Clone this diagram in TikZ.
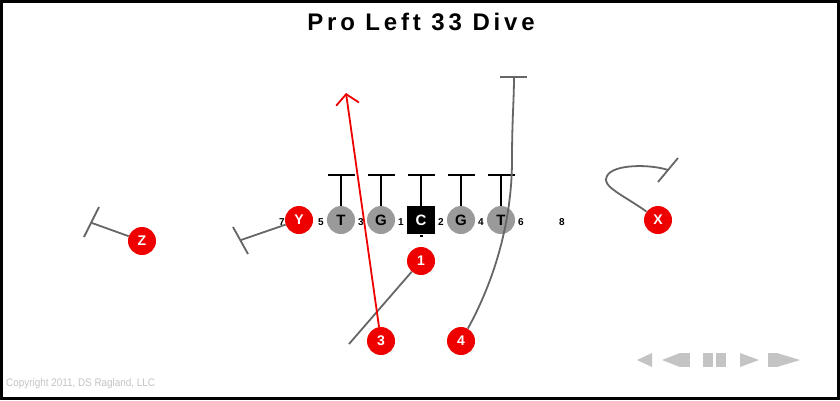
\documentclass[tikz,border=0pt]{standalone}
\usepackage{fontspec}
\setmainfont{Liberation Sans}
\newfontfamily\titlefont[LetterSpace=16]{Liberation Sans}
\usetikzlibrary{arrows.meta,calc}
\definecolor{pred}{HTML}{EE0000}
\definecolor{pgray}{HTML}{9A9A9A}
\definecolor{rgray}{HTML}{666666}
\definecolor{cgray}{HTML}{C4C4C4}
\begin{document}
\begin{tikzpicture}[x=1pt,y=-1pt,
  skill/.style={circle,fill=pred,text=white,inner sep=0pt,minimum size=28pt,font=\fontsize{14}{14}\selectfont\bfseries},
  lineman/.style={circle,fill=pgray,text=black,inner sep=0pt,minimum size=28pt,font=\fontsize{15}{15}\selectfont\bfseries},
  center/.style={rectangle,fill=black,text=white,inner sep=0pt,minimum size=28pt,font=\fontsize{15}{15}\selectfont\bfseries},
  gap/.style={inner sep=0pt,font=\fontsize{10}{10}\selectfont\bfseries},
  block/.style={line width=2.6pt,black},
  route/.style={line width=1.8pt,rgray},
  redroute/.style={line width=1.8pt,pred},
  ctrl/.style={fill=cgray}]
\useasboundingbox (0,0) rectangle (840,400);
\fill[black] (0,0) rectangle (840,400);
\fill[white] (3,3) rectangle (837,397);

% title
\node (title) at (421,22) {\titlefont\fontsize{24}{24}\selectfont\bfseries Pro Left 33 Dive};

% linemen
\node[lineman] (LT) at (341,220) {T};
\node[lineman] (LG) at (381,220) {G};
\node[center]  (C)  at (421,220) {C};
\node[lineman] (RG) at (461,220) {G};
\node[lineman] (RT) at (501,220) {T};
\fill (420,235) rectangle (423,237);

% gap numbers
\foreach \n/\x in {7/282,5/321,3/361,1/401,2/441,4/481,6/521,8/562}
  \node[gap] (g\n) at (\x,222) {\n};

% blocks
\foreach \p in {LT,LG,C,RG,RT}{
  \coordinate (b\p) at ($(\p.center)+(0,-45)$);
  \draw[block] (\p.north) -- (b\p);
  \draw[block] ($(b\p)+(-13.5,0)$) -- ($(b\p)+(13.5,0)$);
}

% skill players
\node[skill] (pY) at (299,220) {Y};
\node[skill] (pZ) at (142,241) {Z};
\node[skill] (pX) at (658,220) {X};
\node[skill] (p1) at (421,261) {1};
\node[skill] (p3) at (381,341) {3};
\node[skill] (p4) at (461,341) {4};

% Z route
\coordinate (zend) at (92,223);
\draw[route] (pZ) -- (zend);
\draw[route] (99,207) -- (84,237);

% Y route
\coordinate (yend) at (241,240);
\draw[route] (pY) -- (yend);
\draw[route] (233,227) -- (248,254);

% X route
\coordinate (xend) at (668,170);
\draw[route] (pX) .. controls (625,196) and (600,186) .. (607,176)
  .. controls (613,164) and (650,164) .. (xend);
\draw[route] (678,158) -- (658,182);

% 1 route
\coordinate (e1) at (349,344);
\draw[route] (p1) -- (e1);

% 4 route
\coordinate (m4) at (512,160);
\coordinate (t4) at (514,77);
\draw[route] (p4) .. controls (500,270) and (512,210) .. (m4) .. controls (512,120) and (514,100) .. (t4);
\draw[route] (500,77) -- (527,77);

% 3 route
\coordinate (a3) at (346,93);
\draw[redroute,-{Straight Barb[length=10pt,width=23pt,line width=1.8pt]}] (p3) -- (a3);

% playback controls
\fill[ctrl] (637,360) -- (652,353) -- (652,367) -- cycle;
\fill[ctrl] (662,360) -- (680,353) -- (680,367) -- cycle;
\fill[ctrl] (680,353) rectangle (690,367);
\fill[ctrl] (703,353) rectangle (713,367);
\fill[ctrl] (716,353) rectangle (726,367);
\fill[ctrl] (740,353) -- (759,360) -- (740,367) -- cycle;
\fill[ctrl] (768,353) rectangle (777,367);
\fill[ctrl] (777,353) -- (800,360) -- (777,367) -- cycle;

% copyright
\node[anchor=west,inner sep=0pt,text=cgray,font=\fontsize{11}{11}\selectfont,xscale=0.9] (copy) at (6,384) {Copyright 2011, DS Ragland, LLC};
\end{tikzpicture}
\end{document}
